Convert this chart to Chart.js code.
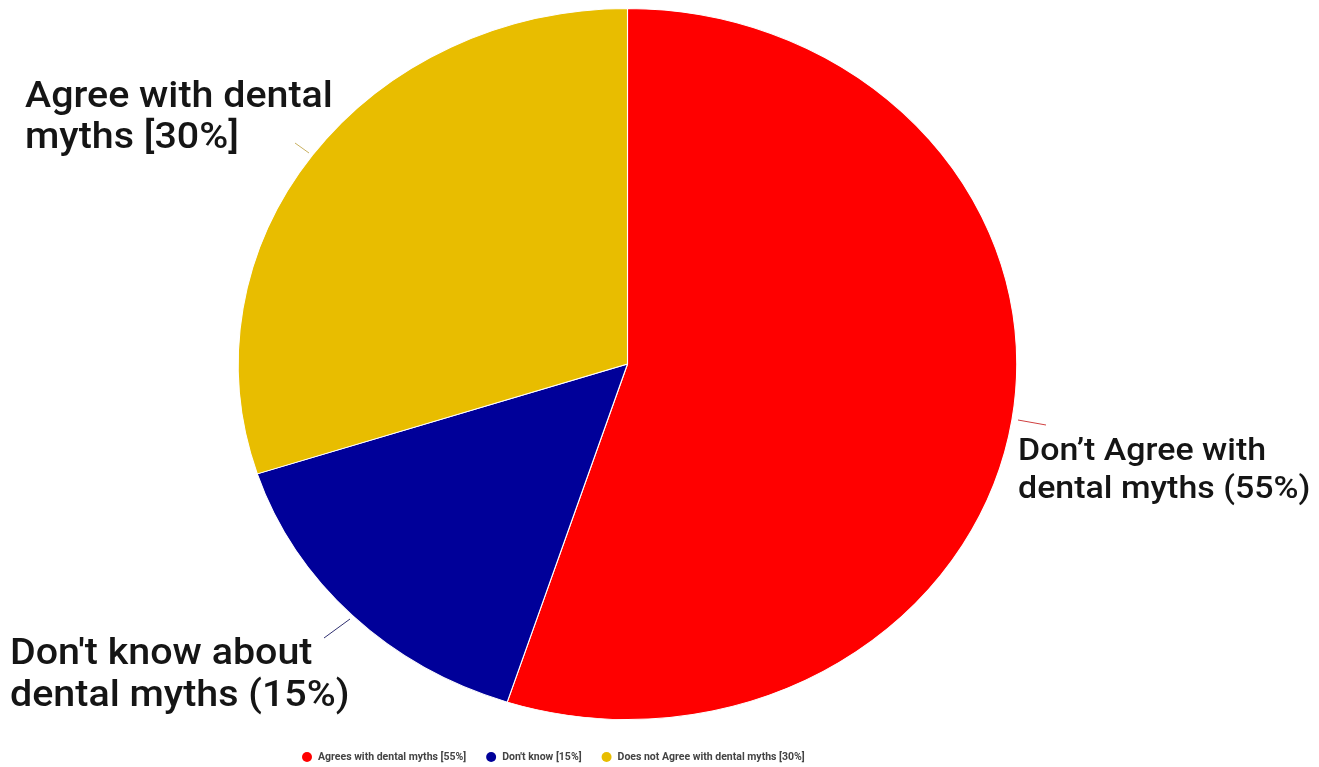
<!DOCTYPE html>
<html>
<head>
<meta charset="utf-8">
<script src="https://cdn.jsdelivr.net/npm/chart.js@4"></script>
<style>
  html, body { margin: 0; padding: 0; background: #fff; }
  #wrap { width: 1319px; height: 767px; }
</style>
</head>
<body>
<div id="wrap"><canvas id="myChart" width="1319" height="767"></canvas></div>
<script>
var legendLabels = ['Agrees with dental myths [55%]', "Don't know [15%]", 'Does not Agree with dental myths [30%]'];
var shares = [55, 15, 30];
var sliceColors = ['#ff0000', '#000099', '#e8bd00'];

// callout text shown next to each slice
var calloutLines = [
  ["Don\u2019t Agree with", 'dental myths (55%)'],
  ["Don't know about", 'dental myths (15%)'],
  ['Agree with dental', 'myths [30%]']
];

// the picture is stretched sideways a bit
var stretchX = 1.095;

// text placement + leader line for each callout
var callouts = [
  { x: 1018, y: 452, size: 31, gap: 38, line: [1018, 420, 1046, 425], lineColor: '#d04040' },
  { x: 10, y: 655, size: 36, gap: 42, line: [350, 619, 324, 638], lineColor: '#303070' },
  { x: 25, y: 98, size: 36, gap: 41, line: [309, 153, 295, 143], lineColor: '#c8b060' }
];

var stretchPlugin = {
  id: 'stretch',
  beforeDatasetsDraw: function (chart) {
    var m = chart.getDatasetMeta(0).data[0];
    var c = chart.ctx;
    c.save();
    c.translate(m.x, m.y);
    c.scale(stretchX, 1);
    c.translate(-m.x, -m.y);
  },
  afterDatasetsDraw: function (chart) {
    chart.ctx.restore();
  }
};

var calloutPlugin = {
  id: 'callouts',
  afterDraw: function (chart) {
    var c = chart.ctx;
    callouts.forEach(function (o, i) {
      c.save();
      c.strokeStyle = o.lineColor;
      c.lineWidth = 1;
      c.beginPath();
      c.moveTo(o.line[0], o.line[1]);
      c.lineTo(o.line[2], o.line[3]);
      c.stroke();
      c.restore();

      c.save();
      c.translate(o.x, 0);
      c.scale(stretchX, 1);
      c.fillStyle = '#151515';
      c.font = '500 ' + o.size + 'px Roboto';
      c.textBaseline = 'middle';
      c.textAlign = 'left';
      calloutLines[i].forEach(function (t, k) {
        c.fillText(t, 0, o.y + k * o.gap);
      });
      c.restore();
    });

    // legend row under the pie
    var x = 302, y = 757;
    c.save();
    c.font = 'bold 10.5px Roboto';
    c.textBaseline = 'middle';
    c.textAlign = 'left';
    chart.data.labels.forEach(function (lab, i) {
      c.fillStyle = chart.data.datasets[0].backgroundColor[i];
      c.beginPath();
      c.arc(x + 5, y, 5, 0, Math.PI * 2);
      c.fill();
      c.fillStyle = '#444';
      c.fillText(lab, x + 16, y);
      x += 16 + c.measureText(lab).width + 20;
    });
    c.restore();
  }
};

var ctx = document.getElementById('myChart');

var myChart = new Chart(ctx, {
  type: 'pie',
  data: {
    labels: legendLabels,
    datasets: [{
      data: shares,
      backgroundColor: sliceColors,
      borderColor: '#ffffff',
      borderWidth: 1
    }]
  },
  options: {
    responsive: false,
    animation: false,
    layout: { padding: { top: 8, bottom: 47, left: 0, right: 64 } },
    plugins: {
      tooltip: { enabled: false },
      legend: { display: false }
    }
  },
  plugins: [stretchPlugin, calloutPlugin]
});
</script>
</body>
</html>
